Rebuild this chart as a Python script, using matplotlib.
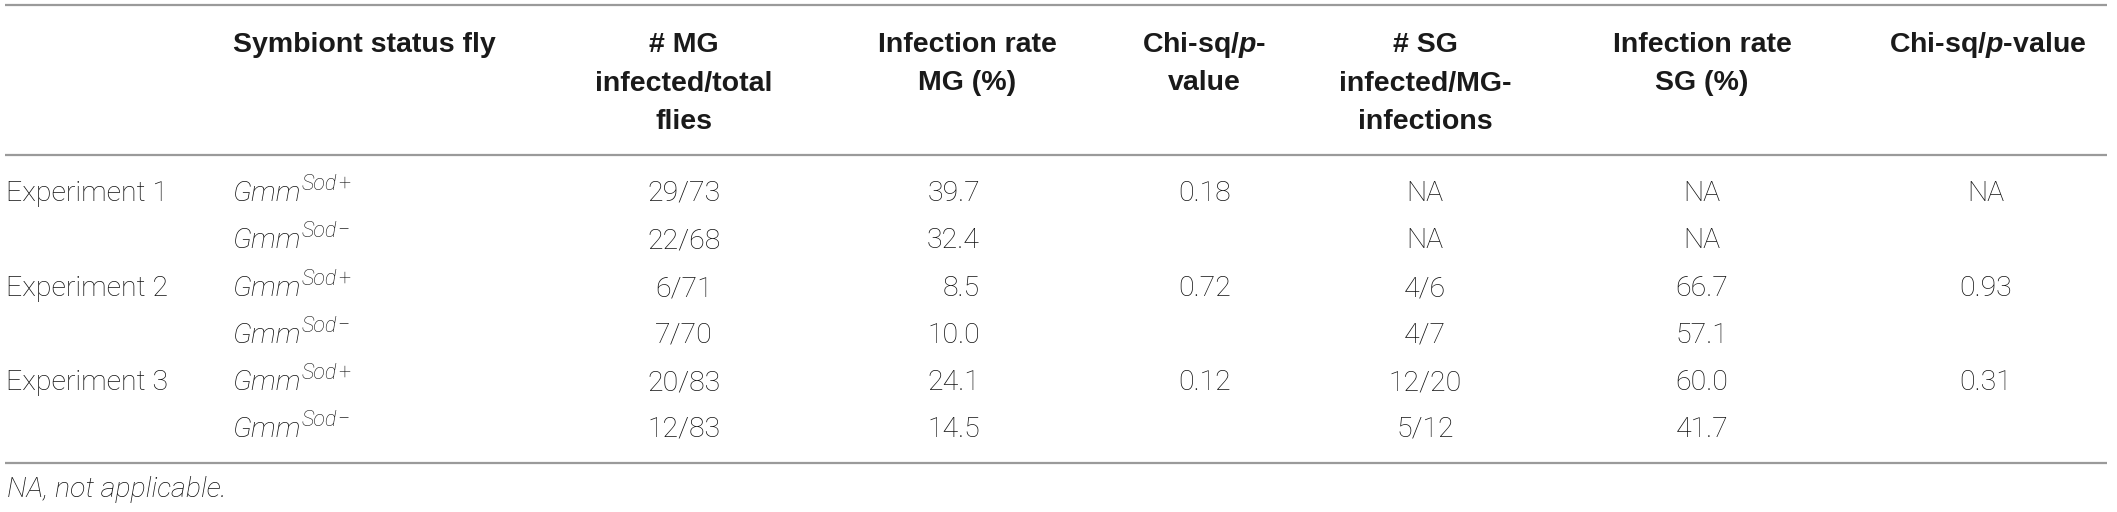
import matplotlib
matplotlib.use('Agg')
import matplotlib.pyplot as plt
from matplotlib.transforms import offset_copy

experiments = ['Experiment 1', '', 'Experiment 2', '', 'Experiment 3', '']
status = ['+', '\u2212', '+', '\u2212', '+', '\u2212']
mg_counts = ['29/73', '22/68', '6/71', '7/70', '20/83', '12/83']
mg_rates = ['39.7', '32.4', '8.5', '10.0', '24.1', '14.5']
chi_mg = ['0.18', '', '0.72', '', '0.12', '']
sg_counts = ['NA', 'NA', '4/6', '4/7', '12/20', '5/12']
sg_rates = ['NA', 'NA', '66.7', '57.1', '60.0', '41.7']
chi_sg = ['NA', '', '0.93', '', '0.31', '']

plt.rcParams['mathtext.fontset'] = 'custom'
plt.rcParams['mathtext.bfit'] = 'Liberation Sans:italic:bold'

head_font = dict(family=['Liberation Sans', 'DejaVu Sans'], weight='bold', size=20.5, color='#1a1a1a')
body_font = dict(family=['Roboto', 'DejaVu Sans'], weight='light', size=20.5, color='#111111')
sup_font = dict(body_font, size=15.5)

fig = plt.figure(figsize=(21.17, 5.12), dpi=100)
ax = fig.add_axes([0, 0, 1, 1])
ax.set_xlim(0, 2117)
ax.set_ylim(512, 0)
ax.axis('off')

for y in (5, 155, 463):
    ax.plot([5, 2107], [y, y], color='#9a9a9a', lw=1.6, solid_capstyle='butt')

# header, one text per line so the baselines can be placed
head_base = [52, 90.5, 129]
ax.text(233, head_base[0], 'Symbiont status fly', ha='left', va='baseline', **head_font)
headers = [
    (684, ['# MG', 'infected/total', 'flies']),
    (967, ['Infection rate', 'MG (%)']),
    (1204, ['Chi-sq/$\\mathbfit{p}$-', 'value']),
    (1425, ['# SG', 'infected/MG-', 'infections']),
    (1702, ['Infection rate', 'SG (%)']),
    (1988, ['Chi-sq/$\\mathbfit{p}$-value']),
]
for x, parts in headers:
    for yb, txt in zip(head_base, parts):
        ax.text(x, yb, txt, ha='center', va='baseline', **head_font)

row_base = [201, 248, 296, 343, 390, 437]
renderer = fig.canvas.get_renderer()
for i, y in enumerate(row_base):
    ax.text(6, y, experiments[i], ha='left', va='baseline', **body_font)
    g = ax.text(232, y, 'Gmm', ha='left', va='baseline', style='italic', **body_font)
    w = g.get_window_extent(renderer).width
    tr = offset_copy(ax.transData, fig=fig, x=w + 1, y=11, units='dots')
    s = ax.text(232, y, 'Sod', ha='left', va='baseline', style='italic', transform=tr, **sup_font)
    w2 = s.get_window_extent(renderer).width
    tr2 = offset_copy(ax.transData, fig=fig, x=w + w2 + 2, y=11, units='dots')
    ax.text(232, y, status[i], ha='left', va='baseline', transform=tr2, **sup_font)
    ax.text(684, y, mg_counts[i], ha='center', va='baseline', **body_font)
    ax.text(980, y, mg_rates[i], ha='right', va='baseline', **body_font)
    ax.text(1205, y, chi_mg[i], ha='center', va='baseline', **body_font)
    ax.text(1425, y, sg_counts[i], ha='center', va='baseline', **body_font)
    ax.text(1702, y, sg_rates[i], ha='center', va='baseline', **body_font)
    ax.text(1986, y, chi_sg[i], ha='center', va='baseline', **body_font)

ax.text(7, 497, 'NA, not applicable.', ha='left', va='baseline', style='italic', **body_font)

fig.savefig('out.png', dpi=100)
